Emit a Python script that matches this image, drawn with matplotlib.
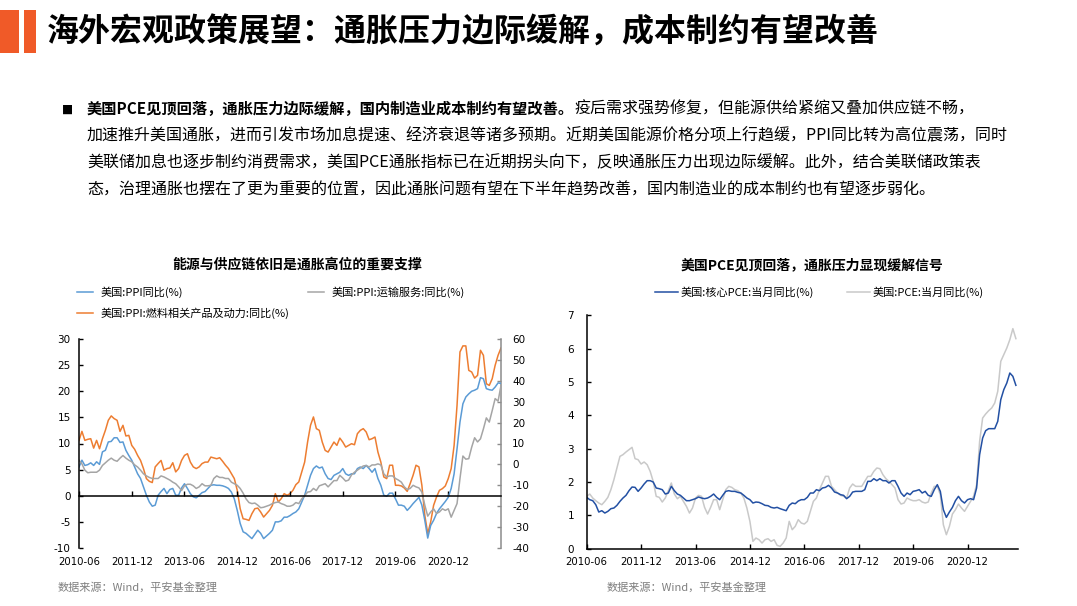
import matplotlib
matplotlib.use("Agg")
from matplotlib import pyplot as plt
from matplotlib.patches import Rectangle
from matplotlib.lines import Line2D

plt.rcParams['font.family'] = ['Noto Sans CJK SC', 'DejaVu Sans']
plt.rcParams['axes.unicode_minus'] = False

W, H = 1077, 606

# ---- data ----
tick_labels = ["2010-06", "2011-12", "2013-06", "2014-12", "2016-06", "2017-12", "2019-06", "2020-12"]
tick_pos = [0, 18, 36, 54, 72, 90, 108, 126]

# left chart, monthly 2010-06 .. 2022-06
ppi_yoy = [5.5, 6.8, 5.8, 5.95, 6.3, 5.8, 6.5, 6.0, 8.4, 8.7,
           10.3, 10.4, 11.1, 11.1, 10.2, 10.3, 8.7, 7.7, 6.8, 5.5,
           4.2, 3.3, 1.7, 0.1, -1.2, -2.0, -1.8, 0.1, 0.8, 1.4,
           0.4, 1.2, 1.4, 0.1, 0.1, 1.5, 2.3, 1.4, 0.4, -0.2,
           -0.4, 0.1, 0.6, 0.8, 1.4, 2.0, 2.1, 2.0, 2.0, 1.9,
           1.7, 1.4, 0.7, -0.6, -2.8, -5.3, -6.9, -7.2, -7.7, -8.2,
           -7.4, -6.6, -7.2, -8.2, -7.7, -7.2, -6.6, -5.0, -5.0, -4.8,
           -4.1, -4.1, -3.8, -3.4, -3.1, -2.5, -1.2, 0.1, 2.0, 3.9,
           5.2, 5.7, 5.3, 5.5, 4.2, 3.3, 3.1, 3.9, 4.2, 4.5,
           5.2, 4.2, 3.9, 4.2, 4.2, 5.2, 5.5, 5.2, 5.8, 5.2,
           4.5, 5.2, 3.3, 2.0, 0.1, -0.1, 0.5, 0.5, -0.6, -1.8,
           -1.8, -2.0, -2.8, -2.2, -1.5, -0.9, -0.3, -1.8, -4.7, -8.1,
           -5.7, -4.7, -3.4, -2.5, -1.8, -1.1, -0.3, 1.4, 4.2, 9.0,
           14.1, 17.6, 18.9, 19.5, 20.0, 20.2, 20.5, 22.6, 22.4, 20.5,
           20.3, 20.2, 20.8, 21.6, 21.5]

transport_yoy = [6.8, 6.1, 4.9, 4.4, 4.5, 4.5, 4.5, 4.9, 5.8, 6.3,
                 6.8, 7.2, 6.8, 6.6, 7.2, 7.7, 7.2, 6.8, 6.5, 5.9,
                 5.5, 4.9, 4.2, 3.8, 3.5, 3.3, 3.3, 3.3, 3.8, 3.6,
                 3.3, 3.0, 2.6, 2.3, 1.7, 1.0, 1.9, 2.2, 2.2, 1.9,
                 1.4, 1.7, 2.3, 1.9, 1.9, 2.0, 3.3, 3.8, 3.5, 3.5,
                 3.3, 3.3, 2.6, 2.3, 2.0, 1.4, 0.5, -0.6, -1.3, -1.5,
                 -1.4, -1.8, -2.3, -2.2, -2.0, -1.8, -1.5, -1.3, -1.2, -1.5,
                 -1.7, -2.0, -2.0, -1.8, -1.3, -1.5, -0.6, 0.0, 0.7, 0.8,
                 1.4, 1.0, 1.9, 2.1, 2.3, 1.7, 2.3, 2.9, 2.9, 3.9,
                 3.4, 2.8, 3.0, 4.0, 4.5, 4.9, 5.3, 5.7, 5.8, 5.5,
                 5.9, 5.9, 6.1, 5.9, 4.2, 3.6, 3.8, 3.8, 3.3, 3.0,
                 2.6, 1.7, 1.2, 1.4, 2.0, 1.7, 1.5, 0.7, -1.8, -3.9,
                 -3.1, -2.5, -3.4, -3.1, -2.5, -2.8, -2.5, -4.1, -2.8, -1.5,
                 3.3, 7.6, 7.0, 7.1, 9.3, 11.1, 10.3, 10.9, 12.8, 14.9,
                 14.1, 16.3, 18.6, 18.1, 21.1]

# right axis
fuel_yoy = [11.5, 15.8, 11.5, 12.0, 12.3, 7.8, 11.5, 7.5, 12.3, 16.3,
            21.1, 23.2, 21.9, 21.1, 15.8, 18.7, 13.6, 13.9, 9.1, 7.2,
            4.3, 1.9, -2.0, -6.8, -8.1, -8.7, -1.2, 0.4, 1.9, -2.8,
            -2.0, -1.7, 0.8, -3.6, -2.0, 1.9, 4.3, 5.1, 1.1, -1.2,
            -2.0, -1.2, 0.4, 1.1, 1.1, 3.5, 3.1, 2.7, 3.2, 1.5,
            -0.4, -2.0, -4.4, -6.8, -12.4, -21.2, -26.0, -26.3, -26.8, -23.6,
            -21.2, -20.9, -22.8, -25.2, -23.6, -22.0, -19.6, -14.0, -18.0, -16.4,
            -14.0, -14.8, -14.0, -12.4, -9.7, -8.4, -3.6, 1.1, 10.7, 18.7,
            22.7, 17.1, 16.3, 10.7, 6.7, 5.9, 8.3, 10.7, 9.1, 12.6,
            10.7, 8.3, 9.1, 9.9, 9.4, 14.7, 16.3, 17.1, 15.5, 11.8,
            12.3, 13.1, 5.9, 1.1, -6.0, -6.8, -0.4, -0.4, -10.0, -10.0,
            -10.3, -11.3, -12.9, -9.2, -5.2, -0.4, -1.2, -10.0, -24.4, -33.1,
            -27.6, -19.6, -15.6, -12.4, -11.6, -10.3, -6.8, -2.0, 9.1, 28.3,
            53.8, 56.7, 56.7, 45.0, 44.2, 41.3, 42.6, 54.6, 52.2, 38.6,
            37.8, 41.0, 47.4, 52.2, 55.7]

# right chart, monthly 2010-06 .. 2022-04
core_pce = [1.54, 1.47, 1.44, 1.32, 1.10, 1.14, 1.07, 1.12, 1.20, 1.22,
            1.30, 1.42, 1.52, 1.60, 1.74, 1.85, 1.84, 1.72, 1.82, 1.94,
            2.04, 2.04, 2.00, 1.82, 1.80, 1.77, 1.64, 1.67, 1.87, 1.74,
            1.64, 1.60, 1.52, 1.44, 1.44, 1.47, 1.50, 1.55, 1.52, 1.50,
            1.52, 1.57, 1.64, 1.54, 1.47, 1.60, 1.72, 1.74, 1.72, 1.72,
            1.69, 1.67, 1.60, 1.52, 1.47, 1.37, 1.40, 1.39, 1.35, 1.30,
            1.29, 1.24, 1.22, 1.24, 1.20, 1.17, 1.14, 1.30, 1.37, 1.35,
            1.43, 1.47, 1.47, 1.54, 1.67, 1.67, 1.77, 1.74, 1.82, 1.84,
            1.90, 1.82, 1.70, 1.67, 1.62, 1.60, 1.50, 1.57, 1.70, 1.72,
            1.72, 1.72, 1.77, 2.02, 2.02, 2.10, 2.04, 2.10, 2.04, 2.04,
            1.97, 2.04, 2.04, 1.87, 1.67, 1.57, 1.67, 1.62, 1.72, 1.74,
            1.77, 1.67, 1.72, 1.60, 1.57, 1.77, 1.92, 1.72, 1.17, 0.94,
            1.10, 1.24, 1.44, 1.57, 1.44, 1.37, 1.47, 1.50, 1.47, 1.82,
            2.82, 3.32, 3.54, 3.60, 3.60, 3.60, 3.82, 4.47, 4.77, 4.97,
            5.27, 5.17, 4.90]

pce = [1.57, 1.64, 1.52, 1.44, 1.37, 1.32, 1.42, 1.54, 1.77, 2.07,
       2.42, 2.77, 2.82, 2.90, 2.97, 3.04, 2.70, 2.67, 2.54, 2.60,
       2.52, 2.32, 2.02, 1.57, 1.54, 1.40, 1.52, 1.74, 1.97, 1.64,
       1.50, 1.57, 1.42, 1.27, 1.07, 1.22, 1.52, 1.60, 1.57, 1.24,
       1.04, 1.24, 1.47, 1.47, 1.17, 1.47, 1.77, 1.87, 1.84, 1.77,
       1.74, 1.67, 1.52, 1.22, 0.82, 0.22, 0.32, 0.27, 0.17, 0.27,
       0.30, 0.22, 0.27, 0.10, 0.07, 0.17, 0.32, 0.82, 0.57, 0.67,
       0.87, 0.77, 0.74, 0.82, 1.12, 1.42, 1.52, 1.77, 1.97, 2.17,
       2.17, 1.87, 1.77, 1.67, 1.60, 1.57, 1.52, 1.82, 1.94, 1.87,
       1.87, 1.87, 2.02, 2.17, 2.17, 2.32, 2.42, 2.40, 2.22, 2.10,
       2.02, 1.92, 1.82, 1.47, 1.34, 1.37, 1.52, 1.47, 1.44, 1.44,
       1.47, 1.40, 1.37, 1.40, 1.67, 1.87, 1.87, 1.62, 0.72, 0.42,
       0.67, 1.04, 1.17, 1.34, 1.22, 1.12, 1.27, 1.42, 1.57, 1.92,
       3.22, 3.92, 4.04, 4.14, 4.22, 4.37, 4.72, 5.62, 5.82, 6.02,
       6.27, 6.60, 6.30]

title = "海外宏观政策展望：通胀压力边际缓解，成本制约有望改善"
bullet_bold = "美国PCE见顶回落，通胀压力边际缓解，国内制造业成本制约有望改善。"
bullet_lines = [
    "疫后需求强势修复，但能源供给紧缩又叠加供应链不畅，",
    "加速推升美国通胀，进而引发市场加息提速、经济衰退等诸多预期。近期美国能源价格分项上行趋缓，PPI同比转为高位震荡，同时",
    "美联储加息也逐步制约消费需求，美国PCE通胀指标已在近期拐头向下，反映通胀压力出现边际缓解。此外，结合美联储政策表",
    "态，治理通胀也摆在了更为重要的位置，因此通胀问题有望在下半年趋势改善，国内制造业的成本制约也有望逐步弱化。",
]
left_title = "能源与供应链依旧是通胀高位的重要支撑"
right_title = "美国PCE见顶回落，通胀压力显现缓解信号"
left_names = ["美国:PPI同比(%)", "美国:PPI:运输服务:同比(%)", "美国:PPI:燃料相关产品及动力:同比(%)"]
right_names = ["美国:核心PCE:当月同比(%)", "美国:PCE:当月同比(%)"]
source = "数据来源：Wind，平安基金整理"

BLUE, ORANGE, GRAY = "#5B9BD5", "#ED7D31", "#A5A5A5"
DBLUE, LGRAY = "#2350A3", "#C9C9C9"


def fx(x):
    return x / W


def fy(y):
    return 1 - y / H


fig = plt.figure(figsize=(W / 100, H / 100), dpi=100)

# header
fig.add_artist(Rectangle((fx(0), fy(53)), fx(19), 43 / H, transform=fig.transFigure, color="#F05A28", lw=0))
fig.add_artist(Rectangle((fx(24), fy(53)), fx(12), 43 / H, transform=fig.transFigure, color="#F05A28", lw=0))
fig.text(fx(47), fy(33), title, fontsize=23, fontweight="bold", va="center", ha="left")

# bullet paragraph
fig.text(fx(62), fy(109), "■", fontsize=8.5, va="center", ha="left", family=["DejaVu Sans"])
line_y = [109, 136, 163, 190]
fs = 11.5
t = fig.text(fx(87), fy(line_y[0]), bullet_bold, fontsize=11.0, fontweight="bold", va="center", ha="left")
r = fig.canvas.get_renderer()
bb = t.get_window_extent(renderer=r)
fig.text(bb.x1 / W, fy(line_y[0]), bullet_lines[0], fontsize=fs, va="center", ha="left")
for yy, txt in zip(line_y[1:], bullet_lines[1:]):
    fig.text(fx(87), fy(yy), txt, fontsize=fs, va="center", ha="left")

# ---- left chart ----
ax1 = fig.add_axes([fx(79), fy(548), fx(422), 209 / H])
x1 = list(range(len(ppi_yoy)))
ax1.plot(x1, ppi_yoy, color=BLUE, lw=1.1)
ax1.plot(x1, transport_yoy, color=GRAY, lw=1.1)
ax1.set_xlim(0, len(ppi_yoy) - 1)
ax1.set_ylim(-10, 30)
ax1.set_yticks(range(-10, 31, 5))
for s in ["top", "right"]:
    ax1.spines[s].set_visible(False)
ax1.spines["bottom"].set_position(("data", 0))
ax1.spines["bottom"].set_linewidth(1.1)
ax1.spines["left"].set_linewidth(1.1)
ax1.set_xticks(tick_pos)
ax1.tick_params(axis="x", direction="in", length=3.5, width=1, labelbottom=False)
ax1.tick_params(axis="y", direction="in", length=3, width=1, pad=6, labelsize=7.5)
for lab in ax1.get_yticklabels():
    lab.set_family("DejaVu Sans")
for p, lab in zip(tick_pos, tick_labels):
    ax1.text(p, -0.067, lab, transform=ax1.get_xaxis_transform(), ha="center", va="center",
             fontsize=7.3, family="DejaVu Sans")

ax2 = ax1.twinx()
ax2.plot(x1, fuel_yoy, color=ORANGE, lw=1.1)
ax2.set_ylim(-40, 60)
ax2.set_yticks(range(-40, 61, 10))
for s in ["top", "left", "bottom"]:
    ax2.spines[s].set_visible(False)
ax2.spines["right"].set_color("#8C8C8C")
ax2.spines["right"].set_linewidth(1.1)
ax2.tick_params(axis="y", direction="in", length=3, width=1, color="#8C8C8C", pad=8, labelsize=7.5)
for lab in ax2.get_yticklabels():
    lab.set_family("DejaVu Sans")
ax1.set_zorder(ax2.get_zorder() + 1)
ax1.patch.set_visible(False)

fig.text(fx(297), fy(265), left_title, fontsize=10, fontweight="bold", ha="center", va="center")
leg_items = [(77, 292, BLUE, left_names[0]), (308, 292, GRAY, left_names[1]), (77, 313, ORANGE, left_names[2])]
for lx, ly, c, name in leg_items:
    fig.add_artist(Line2D([fx(lx), fx(lx + 16)], [fy(ly), fy(ly)], color=c, lw=1.1, transform=fig.transFigure))
    fig.text(fx(lx + 24), fy(ly), name, fontsize=8, va="center", ha="left")
fig.text(fx(58), fy(587), source, fontsize=8, color="#7F7F7F", va="center", ha="left")

# ---- right chart ----
ax3 = fig.add_axes([fx(586.7), fy(548.7), fx(431.3), 233.4 / H])
x3 = list(range(len(core_pce)))
ax3.plot(x3, pce, color=LGRAY, lw=1.1)
ax3.plot(x3, core_pce, color=DBLUE, lw=1.1)
ax3.set_xlim(0, len(core_pce) - 0.3)
ax3.set_ylim(0, 7)
ax3.set_yticks(range(0, 8))
for s in ["top", "right"]:
    ax3.spines[s].set_visible(False)
ax3.spines["bottom"].set_linewidth(1.1)
ax3.spines["left"].set_linewidth(1.1)
ax3.set_xticks(tick_pos)
ax3.set_xticklabels(tick_labels)
ax3.tick_params(axis="x", direction="in", length=3.5, width=1, pad=6, labelsize=7.3)
ax3.tick_params(axis="y", direction="in", length=3, width=1, pad=9, labelsize=7.5)
for lab in ax3.get_xticklabels() + ax3.get_yticklabels():
    lab.set_family("DejaVu Sans")

fig.text(fx(812), fy(265), right_title, fontsize=10, fontweight="bold", ha="center", va="center")
for lx, ly, c, name in [(655, 292, DBLUE, right_names[0]), (847, 292, LGRAY, right_names[1])]:
    fig.add_artist(Line2D([fx(lx), fx(lx + 23)], [fy(ly), fy(ly)], color=c, lw=1.1, transform=fig.transFigure))
    fig.text(fx(lx + 26), fy(ly), name, fontsize=8, va="center", ha="left")
fig.text(fx(607), fy(587), source, fontsize=8, color="#7F7F7F", va="center", ha="left")

fig.savefig("out.png", dpi=100)
